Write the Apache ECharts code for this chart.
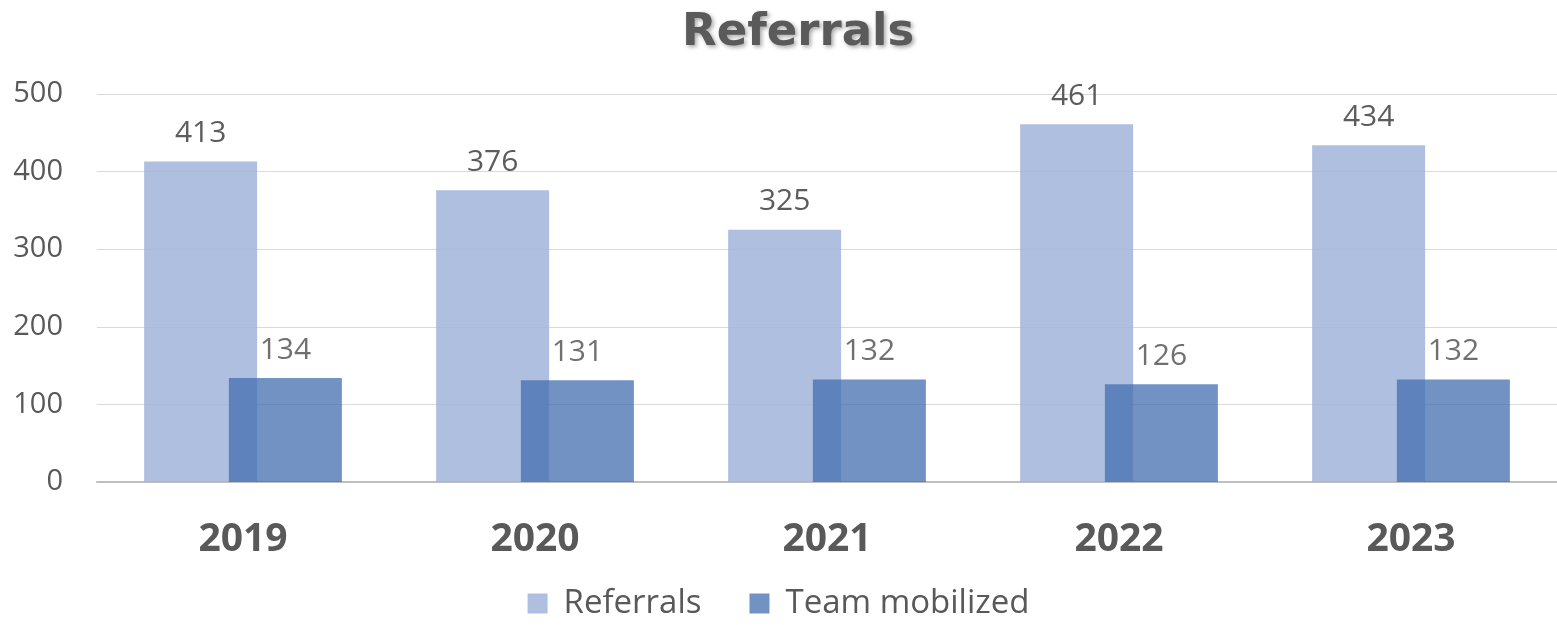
<!DOCTYPE html>
<html>
<head>
<meta charset="utf-8">
<script src="https://cdn.jsdelivr.net/npm/echarts@6/dist/echarts.min.js"></script>
<style>
  html, body { margin: 0; padding: 0; background: #fff; }
  #main { width: 1557px; height: 625px; }
</style>
</head>
<body>
<div id="main"></div>
<script>
// chart data
var years = ['2019', '2020', '2021', '2022', '2023'];
var referrals = [413, 376, 325, 461, 434];
var teamMobilized = [134, 131, 132, 126, 132];
var yTicks = [0, 100, 200, 300, 400, 500];

var chart = echarts.init(document.getElementById('main'));
var font = 'Open Sans';

var option = {
    backgroundColor: '#ffffff',
    animation: false,
    title: {
        text: 'Referrals',
        left: 677,
        top: 6,
        textStyle: {
            fontFamily: 'DejaVu Sans',
            fontWeight: 'bold',
            fontSize: 45,
            color: '#5a5a5a',
            textShadowColor: 'rgba(0,0,0,0.35)',
            textShadowBlur: 4,
            textShadowOffsetX: 2,
            textShadowOffsetY: 2
        }
    },
    legend: {
        bottom: 0,
        left: 'center',
        icon: 'rect',
        itemWidth: 20,
        itemHeight: 20,
        itemGap: 48,
        textStyle: { fontFamily: font, fontSize: 33, color: '#595959', padding: [0, 0, 0, 11] },
        data: ['Referrals', 'Team mobilized']
    },
    grid: {
        left: 97,
        right: 0,
        top: 94,
        bottom: 143,
        containLabel: false
    },
    xAxis: {
        type: 'category',
        data: years,
        axisLine: { lineStyle: { color: '#bfbfbf', width: 2 } },
        axisTick: { show: false },
        axisLabel: {
            margin: 38,
            fontFamily: font,
            fontWeight: 'bold',
            fontSize: 39,
            color: '#595959'
        }
    },
    yAxis: {
        type: 'value',
        min: yTicks[0],
        max: yTicks[yTicks.length - 1],
        interval: 100,
        axisLine: { show: false },
        axisTick: { show: false },
        splitLine: { lineStyle: { color: '#d9d9d9', width: 1 } },
        axisLabel: {
            margin: 34,
            fontFamily: font,
            fontSize: 29,
            color: '#595959'
        }
    },
    series: [{
        name: 'Referrals',
        type: 'bar',
        data: referrals,
        barWidth: 113,
        barGap: '-25%',
        itemStyle: { color: 'rgb(161,180,218)', opacity: 0.85 },
        label: {
            show: true,
            position: 'top',
            distance: 13,
            fontFamily: font,
            fontSize: 30,
            color: '#404040'
        }
    }, {
        name: 'Team mobilized',
        type: 'bar',
        data: teamMobilized,
        barWidth: 113,
        itemStyle: { color: 'rgb(67,110,175)', opacity: 0.75 },
        label: {
            show: true,
            position: 'top',
            distance: 13,
            fontFamily: font,
            fontSize: 30,
            color: '#404040'
        }
    }]
};

chart.setOption(option);
</script>
</body>
</html>
